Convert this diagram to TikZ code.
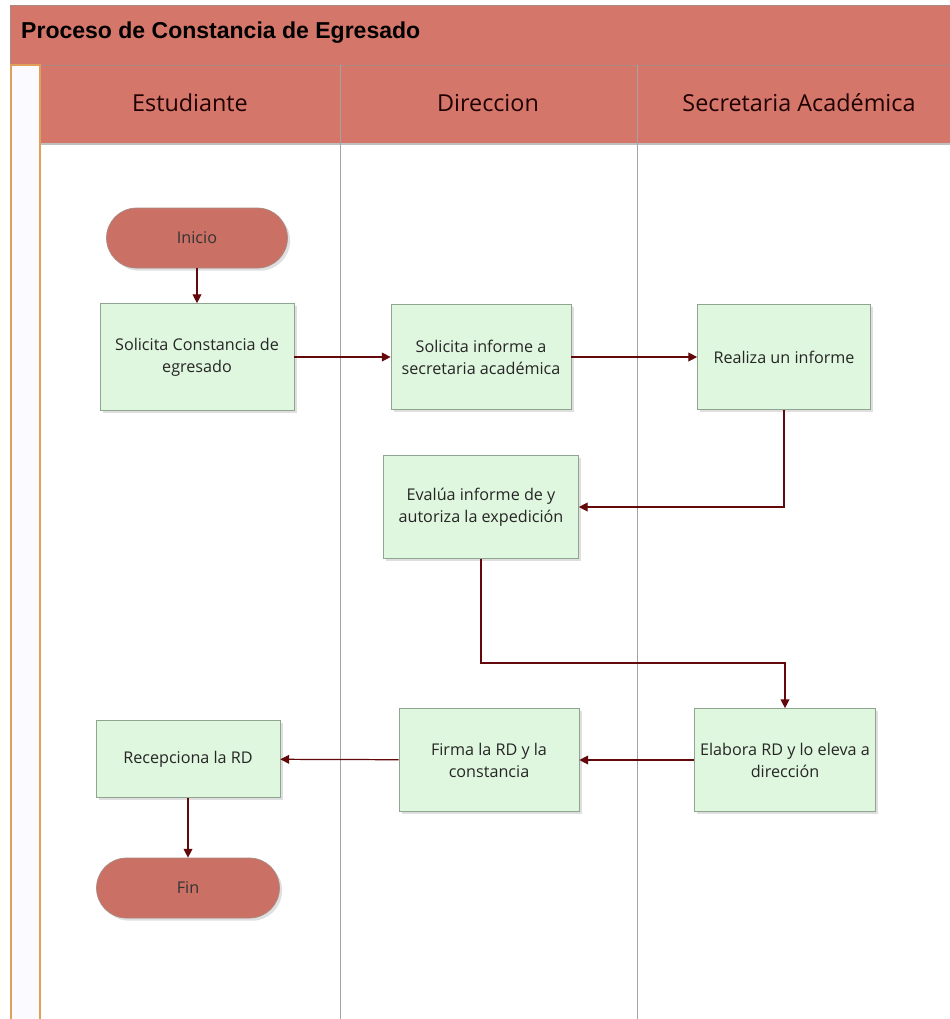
\documentclass[tikz,border=0pt]{standalone}
\usepackage{fontspec}
\setmainfont{Open Sans}
\newfontfamily\titulofont{Liberation Sans}
\usetikzlibrary{positioning,arrows.meta,shadows}
\definecolor{salmon}{HTML}{D5766A}
\definecolor{salmonborde}{HTML}{A98A84}
\definecolor{verde}{HTML}{DFF6DF}
\definecolor{verdeborde}{HTML}{8FA58F}
\definecolor{guinda}{HTML}{7A0F12}
\definecolor{carril}{HTML}{A3A3A3}
\definecolor{naranja}{HTML}{E0A05A}

\begin{document}
\begin{tikzpicture}[x=0.02cm,y=-0.02cm,
	paso/.style={draw=verdeborde, fill=verde, minimum width=3.6cm, minimum height=2.06cm,
		align=center, font=\fontsize{9.2}{12.5}\selectfont, text=black!85,
		drop shadow={opacity=0.25, shadow xshift=1.5pt, shadow yshift=-1.5pt}},
	extremo/.style={draw=salmonborde, fill=salmon!95!black, rounded corners=0.6cm,
		minimum width=3.62cm, minimum height=1.2cm, font=\fontsize{9.2}{12.5}\selectfont, text=black!80,
		drop shadow={opacity=0.25, shadow xshift=1.5pt, shadow yshift=-1.5pt}},
	carriltxt/.style={font=\fontsize{13.3}{15}\selectfont, text=black!80!red!60!black},
	flecha/.style={draw=guinda!85!red!70!black, line width=0.7pt, -{Triangle[length=5pt,width=5pt]}}]
	\useasboundingbox (0,0) rectangle (950,1019);
	\fill[white] (0,0) rectangle (950,1019);
	% cabecera
	\fill[salmon] (10,5) rectangle (950,143);
	\draw[salmonborde] (950,5) -- (10,5) -- (10,65);
	\draw[salmonborde] (40,65) -- (950,65);
	\draw[black!25, line width=1pt] (40,144) -- (950,144);
	\node[anchor=west, font=\titulofont\bfseries\fontsize{13.1}{15}\selectfont] (titulo) at (15,33) {Proceso de Constancia de Egresado};
	% franja izquierda
	\draw[naranja, line width=1.2pt, fill=black!6!blue!2] (11,65) rectangle (40,1025);
	% carriles
	\draw[carril] (340,65) -- (340,1019);
	\draw[carril] (637,65) -- (637,1019);
	\node[carriltxt] (est) at (190,103) {Estudiante};
	\node[carriltxt] (dir) at (488,103) {Direccion};
	\node[carriltxt] (sec) at (799,103) {Secretaria Académica};
	% pasos
	\node[extremo] (inicio) at (197,238) {Inicio};
	\node[paso, minimum width=3.88cm, minimum height=2.14cm] (solcons) at (197,357) {Solicita Constancia de\\egresado};
	\node[paso, minimum height=2.1cm] (solinf) at (481,357) {Solicita informe a\\secretaria académica};
	\node[paso, minimum width=3.46cm, minimum height=2.1cm] (realiza) at (784,357) {Realiza un informe};
	\node[paso, minimum width=3.9cm] (evalua) at (481,507) {Evalúa informe de y\\autoriza la expedición};
	\node[paso] (elabora) at (785,760) {Elabora RD y lo eleva a\\dirección};
	\node[paso] (firma) at (489,760) {Firma la RD y la\\constancia};
	\node[paso, minimum width=3.68cm, minimum height=1.54cm] (recep) at (188,759) {Recepciona la RD};
	\node[extremo, minimum width=3.66cm] (fin) at (188,888) {Fin};
	\coordinate (quiebre) at (630,663);
	% conectores
	\draw[flecha] (inicio) -- (solcons);
	\draw[flecha] (solcons) -- (solinf);
	\draw[flecha] (solinf) -- (realiza);
	\draw[flecha] (realiza) |- (evalua);
	\draw[flecha] (evalua) |- (quiebre) -| (elabora);
	\draw[flecha] (elabora) -- (firma);
	\draw[flecha] (firma) -- (recep);
	\draw[flecha] (recep) -- (fin);
\end{tikzpicture}
\end{document}
